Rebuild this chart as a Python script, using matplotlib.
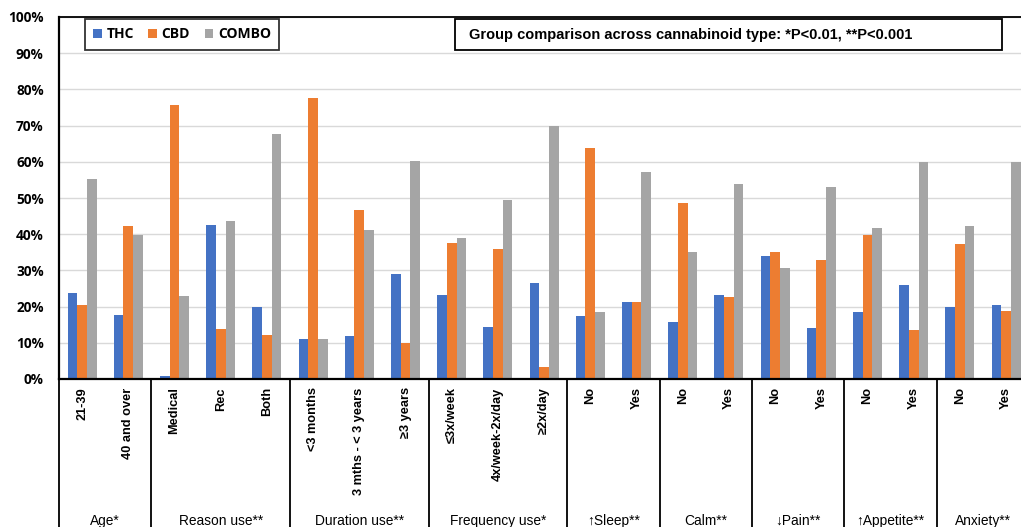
import matplotlib
matplotlib.use("Agg")
import matplotlib.pyplot as plt
from matplotlib import font_manager
from matplotlib.patches import Rectangle
import numpy as np

# data (share of respondents per cannabinoid type)
categories = ["21-39", "40 and over",
              "Medical", "Rec", "Both",
              "<3 months", "3 mths - < 3 years", "\u22653 years",
              "\u22643x/week", "4x/week-2x/day", "\u22652x/day",
              "No", "Yes", "No", "Yes", "No", "Yes", "No", "Yes", "No", "Yes"]
groups = ["Age*", "Reason use**", "Duration use**", "Frequency use*",
          "\u2191Sleep**", "Calm**", "\u2193Pain**", "\u2191Appetite**", "Anxiety**"]
group_sizes = [2, 3, 3, 3, 2, 2, 2, 2, 2]

thc = [23.7, 17.7, 0.9, 42.5, 19.8, 11.0, 11.9, 29.1, 23.3, 14.5, 26.4,
       17.3, 21.2, 15.8, 23.3, 34.0, 14.0, 18.4, 25.9, 20.0, 20.4]
cbd = [20.4, 42.2, 75.7, 13.7, 12.2, 77.5, 46.6, 10.0, 37.5, 35.8, 3.2,
       63.7, 21.2, 48.6, 22.6, 35.0, 32.8, 39.8, 13.5, 37.3, 18.8]
combo = [55.2, 39.8, 23.0, 43.6, 67.8, 11.0, 41.2, 60.3, 38.9, 49.4, 69.9,
         18.4, 57.1, 35.2, 53.8, 30.7, 53.0, 41.6, 60.0, 42.4, 60.0]

series_names = ["THC", "CBD", "COMBO"]
colors = ["#4472C4", "#ED7D31", "#A5A5A5"]
note = "Group comparison across cannabinoid type: *P<0.01, **P<0.001"

W, H = 1021, 527
installed = {f.name for f in font_manager.fontManager.ttflist}
narrow = "Liberation Sans Narrow" in installed
cat_font = "Liberation Sans Narrow" if narrow else "Liberation Sans"
cat_size = 11.3 if narrow else 9.2
grp_size = 12 if narrow else 9.9

fig = plt.figure(figsize=(W / 100, H / 100), dpi=100)
# plot area runs past the right edge of the picture (cropped like the original)
ax = fig.add_axes([59 / W, 148 / H, (46.2 * 21) / W, 362 / H])

x = np.arange(len(categories)) + 0.5
bw = 0.209
for i, (vals, name, col) in enumerate(zip([thc, cbd, combo], series_names, colors)):
    ax.bar(x + (i - 1) * bw, vals, width=bw, color=col, label=name, zorder=2)

ax.set_xlim(0, len(categories))
ax.set_ylim(0, 100)
ax.set_yticks(np.arange(0, 101, 10))
ax.set_yticklabels([f"{v}%" for v in range(0, 101, 10)],
                   fontfamily="Open Sans", fontweight="bold", fontsize=9.8)
ax.tick_params(axis="y", length=0, pad=11)
ax.grid(axis="y", color="#D9D9D9", linewidth=1, zorder=0)
ax.set_axisbelow(True)

ax.set_xticks(x)
ax.set_xticklabels(categories, rotation=90, fontfamily=cat_font,
                   fontweight="bold", fontsize=cat_size, va="top")
ax.tick_params(axis="x", length=0, pad=6)

for side in ["left", "bottom"]:
    ax.spines[side].set_linewidth(1.6)
ax.spines["top"].set_linewidth(1.3)
ax.spines["right"].set_visible(False)

# group separators and group names below the axis
below = -148 / 362
bounds = np.concatenate([[0], np.cumsum(group_sizes)])
trans = ax.get_xaxis_transform()
for b in bounds:
    ax.plot([b, b], [0, below], color="black", linewidth=1.3,
            transform=trans, clip_on=False)
for g, a, b in zip(groups, bounds[:-1], bounds[1:]):
    ax.text((a + b) / 2, -142 / 362, g, transform=trans, ha="center", va="center",
            fontfamily=[cat_font, "DejaVu Sans"], fontsize=grp_size)

# legend box
leg = ax.legend(loc="upper left", bbox_to_anchor=(85 / W, 1 - 19 / H),
                bbox_transform=fig.transFigure, ncol=3, frameon=True,
                fancybox=False, edgecolor="black", handlelength=0.6,
                handleheight=0.6, handletextpad=0.35, columnspacing=1.05,
                borderpad=0.6, borderaxespad=0,
                prop={"family": "Open Sans", "weight": "bold", "size": 10})
leg.get_frame().set_linewidth(1.3)

# note box
fig.add_artist(Rectangle((455 / W, 1 - 50 / H), (1002 - 455) / W, 31 / H,
                         transform=fig.transFigure, fill=False,
                         edgecolor="black", linewidth=1.3))
fig.text(469 / W, 1 - 35 / H, note, ha="left", va="center",
         fontfamily="Liberation Sans", fontweight="bold", fontsize=10.5)

fig.savefig("out.png", dpi=100)
